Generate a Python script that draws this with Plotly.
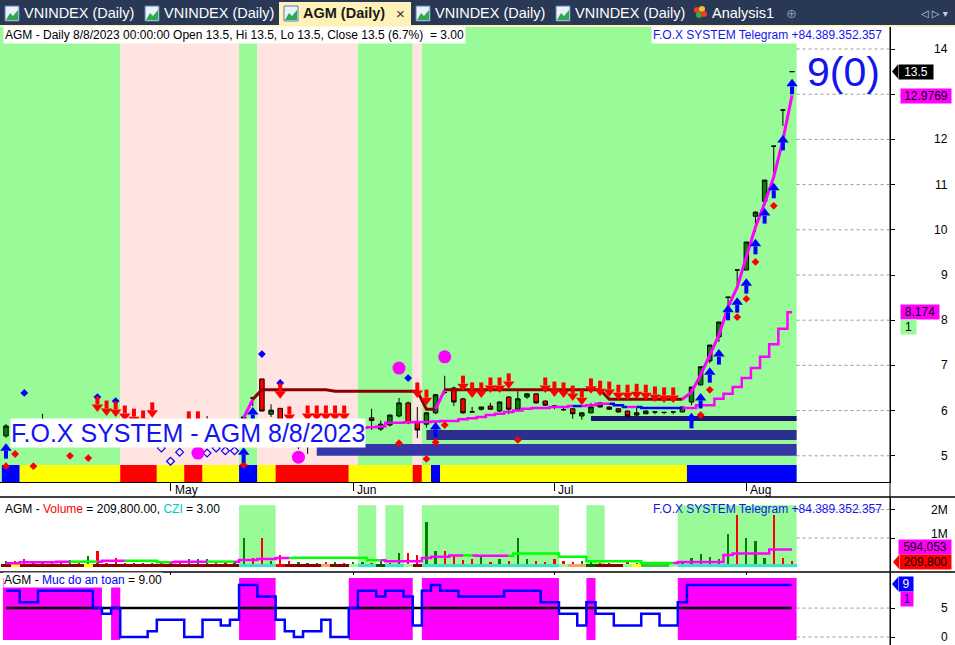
import plotly.graph_objects as go

W, H = 955, 645
FONT = "Liberation Sans"

# ------------------------------------------------------------------ data
symbol = "AGM"
last_date = "8/8/2023"
czi_value = 3.00
phone_text = "F.O.X SYSTEM Telegram +84.389.352.357"
month_names = ["May", "Jun", "Jul", "Aug"]
month_first_bar = [18, 38, 60, 81]

opens = [5.44, 5.66, 5.60, 5.50, 5.60, 5.75, 5.60, 5.55, 5.65, 5.60,
         5.72, 5.55, 5.50, 5.40, 5.35, 5.30, 5.28, 5.35, 5.30, 5.25,
         5.22, 5.40, 5.55, 5.75, 5.60, 5.50, 5.65, 6.28, 6.70, 5.92,
         6.05, 5.62, 5.20, 5.23, 5.40, 5.45, 5.35, 5.40, 5.35, 5.55,
         5.84, 5.59, 5.68, 5.88, 6.17, 5.75, 5.70, 5.95, 6.40, 6.50,
         6.26, 5.97, 6.03, 6.10, 5.99, 6.30, 6.03, 6.30, 6.37, 6.21,
         6.10, 6.02, 6.04, 5.88, 5.95, 6.17, 6.08, 6.04, 5.99, 5.90,
         5.93, 5.97, 5.96, 5.97, 5.97, 6.19, 6.57, 7.10, 7.63, 8.50,
         9.11, 9.11, 10.30, 10.63, 11.85, 12.65, 13.50]
highs = [5.70, 5.75, 5.70, 5.65, 5.93, 5.80, 5.70, 5.70, 5.72, 5.78,
         5.80, 5.65, 5.60, 5.50, 5.45, 5.40, 5.40, 5.40, 5.35, 5.30,
         5.45, 5.60, 5.88, 5.80, 5.65, 5.70, 5.86, 6.28, 6.70, 6.14,
         6.05, 5.70, 5.30, 5.45, 5.55, 5.50, 5.45, 5.50, 5.60, 5.70,
         6.04, 5.78, 5.92, 6.28, 6.20, 6.08, 5.97, 6.37, 6.77, 6.53,
         6.28, 6.08, 6.08, 6.17, 6.20, 6.32, 6.43, 6.39, 6.38, 6.23,
         6.11, 6.06, 6.05, 5.96, 6.17, 6.18, 6.09, 6.05, 6.00, 6.07,
         6.00, 5.98, 5.97, 5.98, 6.09, 6.52, 6.97, 7.45, 7.96, 8.51,
         9.11, 9.73, 10.41, 11.10, 11.85, 12.65, 13.50]
lows = [5.40, 5.50, 5.45, 5.45, 5.55, 5.55, 5.50, 5.50, 5.55, 5.55,
        5.50, 5.45, 5.35, 5.30, 5.28, 5.25, 5.25, 5.25, 5.22, 5.20,
        5.20, 5.35, 5.50, 5.55, 5.45, 5.45, 5.60, 6.10, 5.99, 5.86,
        5.60, 5.30, 5.15, 5.04, 5.35, 5.30, 5.30, 5.30, 5.30, 5.50,
        5.57, 5.55, 5.65, 5.85, 5.70, 5.39, 5.62, 5.92, 6.36, 6.10,
        5.93, 5.97, 6.00, 6.02, 5.97, 5.92, 6.00, 6.26, 6.15, 6.10,
        6.03, 6.00, 5.82, 5.80, 5.94, 6.07, 6.02, 5.96, 5.84, 5.88,
        5.92, 5.92, 5.92, 5.92, 5.96, 6.12, 6.55, 7.05, 7.52, 8.30,
        8.73, 9.11, 9.95, 10.63, 11.20, 12.30, 13.50]
closes = [5.66, 5.60, 5.50, 5.60, 5.75, 5.60, 5.55, 5.65, 5.60, 5.72,
          5.55, 5.50, 5.40, 5.35, 5.30, 5.28, 5.35, 5.30, 5.25, 5.22,
          5.40, 5.55, 5.75, 5.60, 5.50, 5.65, 5.86, 6.28, 5.99, 6.01,
          5.62, 5.35, 5.23, 5.40, 5.45, 5.35, 5.40, 5.35, 5.55, 5.65,
          5.78, 5.70, 5.90, 6.17, 5.73, 5.57, 5.95, 6.35, 6.40, 6.19,
          5.95, 5.97, 6.08, 6.03, 6.19, 6.03, 6.26, 6.37, 6.17, 6.12,
          6.10, 6.02, 5.93, 5.95, 6.08, 6.08, 6.03, 5.97, 5.88, 5.95,
          5.99, 5.97, 5.96, 5.97, 6.08, 6.52, 6.97, 7.45, 7.96, 8.51,
          9.11, 9.73, 10.39, 11.10, 11.85, 12.65, 13.50]
bars = list(range(len(closes)))

price_ticks = [5, 6, 7, 8, 9, 10, 11, 12, 13, 14]
price_tick_labels_shown = [5, 6, 7, 8, 9, 10, 11, 12, 14]
volume_ticks = [1, 2]
volume_tick_text = ["1M", "2M"]
safety_ticks = [0, 5]

# trend background (first bar, last bar, state)
trend_runs = [(0, 12, "up"), (13, 25, "down"), (26, 27, "up"), (28, 38, "down"),
              (39, 44, "up"), (45, 45, "down"), (46, 86, "up")]
# colour band under the price pane
signal_runs = [(0, 1, "B"), (2, 12, "Y"), (13, 16, "R"), (17, 19, "Y"), (20, 21, "R"),
               (22, 25, "Y"), (26, 27, "B"), (28, 29, "Y"), (30, 37, "R"), (38, 44, "Y"),
               (45, 45, "R"), (46, 46, "Y"), (47, 47, "B"), (48, 74, "Y"), (75, 86, "B")]
# support zones
support_start_bar = [64, 46, 34]
support_low = [5.77, 5.35, 5.00]
support_high = [5.88, 5.57, 5.26]

# fast trailing line (from bar 26)
trail_first_bar = 26
trail_values = [5.84, 6.25,
                6.46, 6.46, 6.46, 6.46, 6.46, 6.46, 6.46, 6.46,
                6.43, 6.43, 6.43, 6.43, 6.43, 6.43, 6.43, 6.43, 6.43, 6.43,
                6.03, 6.03,
                6.46, 6.46, 6.46, 6.46, 6.46, 6.46, 6.46, 6.46, 6.46,
                6.46, 6.46, 6.46, 6.46, 6.46, 6.46, 6.46, 6.46, 6.46,
                6.25, 6.25, 6.25, 6.25, 6.25, 6.25, 6.25, 6.25, 6.25,
                6.41, 6.79, 7.23, 7.67, 8.29, 8.73, 9.40, 10.06, 10.59, 11.17, 11.99, 12.9769]
trail_colors = ("MM" + "DDDDDDDDDDDDDDDDDDDD" + "M" +
                "DDDDDDDDDDDDDDDDDDDDDDDDDD" + "MMMMMMMMMMMM")

# slow stepped line (from bar 38)
slow_first_bar = 38
slow_values = [5.62, 5.62, 5.63, 5.65, 5.73, 5.73, 5.74, 5.75, 5.75, 5.76,
               5.77, 5.77, 5.81, 5.83, 5.86, 5.90, 5.93, 5.97, 6.00, 6.04,
               6.06, 6.06, 6.08, 6.08, 6.10, 6.10, 6.12, 6.15, 6.15, 6.12,
               6.08, 6.08, 6.06, 6.06, 6.06, 6.06, 6.06, 6.06, 6.12, 6.12,
               6.26, 6.37, 6.52, 6.72, 6.94, 7.19, 7.47, 7.81, 8.174]
slow_colors = ("MMMMMMMMMMMMMMMMMMMMMMMMM" + "B" + "MMM" + "BB" + "M" + "BBBBB" + "MMMMMMMMMMMM")
slow_extra_value = 1

# signals
sell_bars = [10, 11, 12, 13, 14, 15, 16, 20, 21, 30, 31, 33, 34, 35, 36, 37, 45, 46,
             50, 51, 52, 53, 54, 55, 59, 60, 61, 62, 63, 64, 65, 66, 67, 68, 69, 70, 71, 72, 73]
sell_tips = [5.97, 5.88, 5.86, 5.77, 5.70, 5.66, 5.84, 5.64, 5.64, 6.26, 5.75, 5.77, 5.77, 5.77, 5.77, 5.77,
             6.28, 6.12, 6.43, 6.28, 6.28, 6.39, 6.39, 6.48, 6.39, 6.30, 6.28, 6.21, 6.12, 6.37, 6.32,
             6.30, 6.23, 6.23, 6.25, 6.23, 6.19, 6.17, 6.17]
buy_bars = [0, 26, 27, 47, 75, 76, 77, 78, 79, 80, 81, 82, 83, 84, 85, 86]
buy_tips = [5.28, 5.19, 6.08, 5.75, 5.95, 6.39, 6.96, 7.36, 8.34, 8.51, 8.93, 9.80, 10.48, 11.04, 12.10, 13.34]
red_dot_bars = [0, 1, 3, 7, 9, 26, 43, 46, 47, 48, 56, 76, 77, 80, 81, 82, 84]
red_dot_y = [4.77, 5.04, 4.77, 5.00, 4.95, 4.80, 5.28, 4.93, 5.30, 5.68, 5.35, 5.90, 6.46, 8.07, 8.47, 9.29, 10.53]
blue_dot_bars = [2, 10, 12, 28, 30, 44]
blue_dot_y = [6.39, 6.30, 6.21, 7.25, 6.61, 6.72]
circle_bars = [21, 32, 43, 48]
circle_y = [5.06, 4.97, 6.94, 7.19]
hollow_bars = [17, 18, 19, 22, 23, 24, 25]
hollow_y = [5.17, 4.88, 5.08, 5.06, 5.17, 5.11, 5.11]

# volume (millions)
volume_m = [0.21, 0.21, 0.28, 0.21, 0.14, 0.17, 0.21, 0.24, 0.12, 0.38,
            0.55, 0.14, 0.31, 0.14, 0.14, 0.14, 0.14, 0.12, 0.12, 0.12,
            0.28, 0.28, 0.28, 0.21, 0.21, 0.21, 1.00, 0.31, 1.00, 0.21,
            0.41, 0.21, 0.17, 0.14, 0.14, 0.17, 0.17, 0.14, 0.17, 0.17,
            0.14, 0.21, 0.14, 0.48, 0.48, 0.41, 1.55, 0.55, 0.55, 0.41,
            0.24, 0.28, 0.34, 0.15, 0.28, 0.20, 1.00, 0.25, 0.20, 0.15,
            0.25, 0.18, 0.15, 0.20, 0.15, 0.12, 0.12, 0.10, 0.15, 0.12,
            0.10, 0.10, 0.12, 0.10, 0.15, 0.30, 0.45, 0.35, 0.25, 1.15,
            1.80, 1.00, 0.90, 0.30, 1.80, 0.30, 0.2098]
volume_avg_m = [0.11, 0.11, 0.15, 0.15, 0.15, 0.15, 0.17, 0.17, 0.17, 0.17,
                0.17, 0.20, 0.20, 0.20, 0.20, 0.20, 0.20, 0.15, 0.15, 0.17,
                0.17, 0.17, 0.17, 0.17, 0.17, 0.17, 0.23, 0.23, 0.26, 0.26,
                0.30, 0.30, 0.31, 0.31, 0.31, 0.31, 0.31, 0.31, 0.31, 0.31,
                0.22, 0.22, 0.18, 0.18, 0.18, 0.18, 0.30, 0.34, 0.34, 0.39,
                0.39, 0.39, 0.38, 0.38, 0.38, 0.38, 0.46, 0.46, 0.46, 0.46,
                0.46, 0.34, 0.34, 0.34, 0.18, 0.18, 0.18, 0.18, 0.18, 0.18,
                0.12, 0.12, 0.12, 0.12, 0.16, 0.16, 0.16, 0.16, 0.16, 0.40,
                0.46, 0.46, 0.46, 0.46, 0.594053, 0.594053, 0.594053]
volume_avg_colors = ("MMMMMMMM" + "GGG" + "MMM" + "GGGGG" + "MMMM" + "GGG" + "MMMMMM" +
                     "GGGGGGGGGG" + "MMMMMMMMM" + "G" + "MMMM" + "GGGGGGGGGGGGGGGGGG" + "MMMMMMMMMMMMM")
volume_zone_runs = [(26, 29), (39, 40), (42, 43), (46, 60), (64, 65), (74, 86)]
flow_strip = ("d" + "y" + "ddddddd" + "y" + "dddddddddddddddd" + "cccc" + "r" + "dddd" + "o" + "dd" +
              "l" + "cc" + "g" + "cc" + "l" + "d" + "ccccccccccccccc" + "l" + "oo" + "g" + "ddd" + "l" +
              "y" + "iii" + "l" + "ccccccccccccc")

# safety level ("Muc do an toan")
safety_level = [8, 8, 6, 6, 8, 8, 8, 8, 8, 8, 5, 4, 5, 0, 0, 0, 1, 3, 3, 3,
                0, 0, 3, 3, 2, 3, 9, 9, 7, 7, 3, 1, 0, 1, 1, 3, 0, 0, 5, 8,
                8, 7, 8, 8, 7, 2, 8, 9, 8, 8, 7, 7, 7, 7, 7, 8, 8, 8, 8, 6,
                6, 4, 4, 2, 6, 4, 4, 2, 2, 2, 4, 4, 2, 2, 6, 9, 9, 9, 9, 9,
                9, 9, 9, 9, 9, 9, 9]
safety_threshold = 5
safety_extra_value = 1
signal_count = 0

n = len(closes)
for arr in (opens, highs, lows, volume_m, volume_avg_m, safety_level):
    assert len(arr) == n
assert len(volume_avg_colors) == n and len(flow_strip) == n
assert len(trail_values) == n - trail_first_bar == len(trail_colors)
assert len(slow_values) == n - slow_first_bar == len(slow_colors)
assert len(sell_bars) == len(sell_tips) and len(buy_bars) == len(buy_tips)

# ------------------------------------------------------------------ geometry (pixels)
PLOT_R = 890
BAR_PX = 9.14
FIRST_BAR_PX = 6
PRICE_PX = (27, 482)
VOL_PX = (498, 571)
IND_PX = (573, 645)
PRICE_RANGE = (4.42, 14.487)
VOL_RANGE = (-0.158, 2.404)
IND_RANGE = (-1.384, 11.07)
X0 = -FIRST_BAR_PX / BAR_PX
X1 = X0 + PLOT_R / BAR_PX
XEND = n - 0.5


def fx(px):
    return px / W


def fy(py):
    return 1 - py / H


def dom(p):
    return [fy(p[1]), fy(p[0])]


PPU = (PRICE_RANGE[1] - PRICE_RANGE[0]) / (PRICE_PX[1] - PRICE_PX[0])
VPU = (VOL_RANGE[1] - VOL_RANGE[0]) / (VOL_PX[1] - VOL_PX[0])
IPU = (IND_RANGE[1] - IND_RANGE[0]) / (IND_PX[1] - IND_PX[0])

GREEN_BG = "#98FB98"
PINK_BG = "#FFE4E1"
MAGENTA = "#FF00FF"
DARKRED = "#8B0000"
BLUE = "#0000FF"
TEXT_BLUE = "#1414F0"
GRID = "#9A9A9A"

fig = go.Figure()
shapes = []
anns = []


def hgrid(xa, ya, vals):
    for v in vals:
        shapes.append(dict(type="line", xref=xa, yref=ya, x0=XEND, x1=X1, y0=v, y1=v,
                           line=dict(color=GRID, width=1, dash="dot"), layer="below"))


hgrid("x", "y", price_ticks)
hgrid("x2", "y2", volume_ticks)
hgrid("x3", "y3", safety_ticks)

# ---------------- price pane backgrounds
trend_color = {"up": GREEN_BG, "down": PINK_BG}
for a, b, s in trend_runs:
    shapes.append(dict(type="rect", xref="x", yref="y domain", x0=(a - 0.5) if a > 0 else X0,
                       x1=b + 0.5, y0=0, y1=1, fillcolor=trend_color[s], line_width=0, layer="below"))
band_color = {"B": "#0000FF", "Y": "#FFFF00", "R": "#FF0000"}
BAND_TOP = 4.796
for a, b, s in signal_runs:
    shapes.append(dict(type="rect", xref="x", yref="y", x0=a - 0.5 if a > 0 else -0.45, x1=b + 0.5,
                       y0=PRICE_RANGE[0], y1=BAND_TOP, fillcolor=band_color[s], line_width=0, layer="below"))
zone_colors = ["#17176C", "#2C2E90", "#3535A8"]
for s, lo, hi, c in zip(support_start_bar, support_low, support_high, zone_colors):
    shapes.append(dict(type="rect", xref="x", yref="y", x0=s, x1=XEND, y0=lo, y1=hi,
                       fillcolor=c, line_width=0, layer="below"))

# candles
fig.add_trace(go.Candlestick(
    x=bars, open=opens, high=highs, low=lows, close=closes,
    increasing=dict(fillcolor="#008000", line=dict(color="black", width=1)),
    decreasing=dict(fillcolor="#FF0000", line=dict(color="black", width=1)),
    whiskerwidth=0, xaxis="x", yaxis="y", hoverinfo="skip"))


def colored_line(xs, ys, codes, cmap, shape, width, xa, ya):
    runs = []
    for i in range(1, len(xs)):
        c = codes[i]
        if runs and runs[-1][0] == c:
            runs[-1][1].append(i)
        else:
            runs.append([c, [i - 1, i]])
    for c, idx in runs:
        fig.add_trace(go.Scatter(x=[xs[k] for k in idx], y=[ys[k] for k in idx], mode="lines",
                                 line=dict(color=cmap[c], width=width, shape=shape),
                                 xaxis=xa, yaxis=ya, hoverinfo="skip"))


slow_x = bars[slow_first_bar:]
colored_line(slow_x, slow_values, slow_colors, {"M": MAGENTA, "B": BLUE}, "hvh", 2.5, "x", "y")
trail_x = bars[trail_first_bar:]
colored_line(trail_x, trail_values, trail_colors, {"M": MAGENTA, "D": DARKRED}, "linear", 3, "x", "y")


def markers(xs, ys, symbol, size, color, line_color=None, line_width=0):
    fig.add_trace(go.Scatter(x=xs, y=ys, mode="markers", xaxis="x", yaxis="y", hoverinfo="skip",
                             marker=dict(symbol=symbol, size=size, color=color,
                                         line=dict(color=line_color or color, width=line_width))))


markers(red_dot_bars, red_dot_y, "diamond", 6, "#FF0000")
markers(blue_dot_bars, blue_dot_y, "diamond", 6, BLUE)
markers(hollow_bars, hollow_y, "diamond-open", 6, BLUE, BLUE, 1.2)
markers(circle_bars, circle_y, "circle", 13, MAGENTA)
# arrows: stem + head, tips given in price
markers(sell_bars, [t + 11.5 * PPU for t in sell_tips], "line-ns", 5.7, "#FF0000", "#FF0000", 4)
markers(sell_bars, [t + 5 * PPU for t in sell_tips], "triangle-down", 10, "#FF0000")
markers(buy_bars, [t - 11.5 * PPU for t in buy_tips], "line-ns", 5.7, BLUE, BLUE, 4)
markers(buy_bars, [t - 5 * PPU for t in buy_tips], "triangle-up", 10, BLUE)

# ---------------- volume pane
for a, b in volume_zone_runs:
    shapes.append(dict(type="rect", xref="x2", yref="y2 domain", x0=a - 0.5, x1=b + 0.5, y0=0.05, y1=0.9,
                       fillcolor=GREEN_BG, line_width=0, layer="below"))
vol_colors = ["#008000" if c > o else "#FF0000" for o, c in zip(opens, closes)]
fig.add_trace(go.Bar(x=bars, y=volume_m, width=0.25, marker=dict(color=vol_colors, line_width=0),
                     xaxis="x2", yaxis="y2", hoverinfo="skip"))
strip_map = {"d": "#8B0000", "y": "#FFFF00", "c": "#40E0D0", "r": "#FF0000", "o": "#F4A460",
             "l": "#98FB98", "g": "#006400", "i": "#32CD32"}
STRIP_LO, STRIP_HI = -0.02, 0.10
fig.add_trace(go.Bar(x=bars, y=[STRIP_HI - STRIP_LO] * n, base=STRIP_LO, width=1,
                     marker=dict(color=[strip_map[c] for c in flow_strip], line_width=0),
                     xaxis="x2", yaxis="y2", hoverinfo="skip"))
colored_line(bars, volume_avg_m, volume_avg_colors, {"M": MAGENTA, "G": "#00FF00"}, "hvh", 2.5, "x2", "y2")

# ---------------- safety pane
runs = []
for i, v in enumerate(safety_level):
    if v >= safety_threshold:
        if runs and runs[-1][1] == i - 1:
            runs[-1][1] = i
        else:
            runs.append([i, i])
for a, b in runs:
    shapes.append(dict(type="rect", xref="x3", yref="y3 domain", x0=max(a - 0.5, -0.33), x1=b + 0.5,
                       y0=0.07, y1=0.93, fillcolor=MAGENTA, line_width=0, layer="below"))
fig.add_trace(go.Scatter(x=[bars[0], bars[-1]], y=[safety_threshold, safety_threshold], mode="lines",
                         line=dict(color="black", width=2.5), xaxis="x3", yaxis="y3", hoverinfo="skip"))
fig.add_trace(go.Scatter(x=bars, y=safety_level, mode="lines", line=dict(color=BLUE, width=2.5, shape="hvh"),
                         xaxis="x3", yaxis="y3", hoverinfo="skip"))

# ---------------- texts
pct = (closes[-1] / closes[-2] - 1) * 100
header = (f"{symbol} - Daily {last_date} 00:00:00 Open {opens[-1]:g}, Hi {highs[-1]:g}, "
          f"Lo {lows[-1]:g}, Close {closes[-1]:g} ({pct:.1f}%)\u00a0 = {czi_value:.2f}")
anns.append(dict(xref="paper", yref="paper", x=fx(3), y=fy(35), xanchor="left", yanchor="middle",
                 text=header, showarrow=False, bgcolor="white", borderpad=1,
                 font=dict(family=FONT, size=12, color="black")))
anns.append(dict(xref="paper", yref="paper", x=fx(884), y=fy(35), xanchor="right", yanchor="middle",
                 text=phone_text, showarrow=False, bgcolor="white", borderpad=1,
                 font=dict(family=FONT, size=12, color=TEXT_BLUE)))
vol_header = (f"{symbol} - <span style='color:#FF0000'>Volume</span> = {volume_m[-1] * 1e6:,.2f}, "
              f"<span style='color:#00C8C8'>CZI</span> = {czi_value:.2f}")
anns.append(dict(xref="paper", yref="paper", x=fx(3), y=fy(509), xanchor="left", yanchor="middle",
                 text=vol_header, showarrow=False, font=dict(family=FONT, size=12, color="black")))
anns.append(dict(xref="paper", yref="paper", x=fx(884), y=fy(509), xanchor="right", yanchor="middle",
                 text=phone_text, showarrow=False, font=dict(family=FONT, size=12, color=TEXT_BLUE)))
ind_header = (f"{symbol} - <span style='color:#0000FF'>Muc do an toan</span> = {safety_level[-1]:.2f}")
anns.append(dict(xref="paper", yref="paper", x=fx(3), y=fy(580), xanchor="left", yanchor="middle",
                 text=ind_header, showarrow=False, bgcolor="white", borderpad=0,
                 font=dict(family=FONT, size=12, color="black")))
anns.append(dict(xref="paper", yref="paper", x=fx(10), y=fy(432.5), xanchor="left", yanchor="middle",
                 text=f"F.O.X SYSTEM - {symbol} {last_date}", showarrow=False, bgcolor="white",
                 borderpad=0, font=dict(family=FONT, size=25, color=TEXT_BLUE)))
anns.append(dict(xref="paper", yref="paper", x=fx(843), y=fy(72), xanchor="center", yanchor="middle",
                 text=f"{safety_level[-1]}({signal_count})", showarrow=False,
                 font=dict(family=FONT, size=41, color=TEXT_BLUE)))

# month labels
for name, b in zip(month_names, month_first_bar):
    anns.append(dict(xref="x", yref="paper", x=b, y=fy(490), xanchor="left", yanchor="middle", xshift=2,
                     text=name, showarrow=False, font=dict(family=FONT, size=12, color="black")))

# right axis tick labels
for v in price_tick_labels_shown:
    anns.append(dict(xref="paper", yref="y", x=fx(950), y=v, xanchor="right", yanchor="middle",
                     text=str(v), showarrow=False, font=dict(family=FONT, size=12, color="black")))
for v, t in zip(volume_ticks, volume_tick_text):
    anns.append(dict(xref="paper", yref="y2", x=fx(950), y=v, xanchor="right", yanchor="middle",
                     yshift=4 if v == 1 else 0,
                     text=t, showarrow=False, font=dict(family=FONT, size=12, color="black")))
for v in safety_ticks:
    anns.append(dict(xref="paper", yref="y3", x=fx(950), y=v, xanchor="right", yanchor="middle",
                     text=str(v), showarrow=False, font=dict(family=FONT, size=12, color="black")))


def value_box(text, yaxis, yval, ppu, x_px, w_px, bg, fg, pointer=False, shift_px=0):
    y = yval - shift_px * ppu
    anns.append(dict(xref="paper", yref=yaxis, x=fx(x_px), y=y, xanchor="left", yanchor="middle",
                     text=text, showarrow=False, bgcolor=bg, width=w_px, height=14, borderpad=0,
                     align="center", font=dict(family=FONT, size=12, color=fg)))
    if pointer:
        h = 7 * ppu
        shapes.append(dict(type="path", xref="paper", yref=yaxis,
                           path=f"M {fx(x_px - 6)},{y} L {fx(x_px)},{y + h} L {fx(x_px)},{y - h} Z",
                           fillcolor=bg, line_width=0, layer="above"))


value_box(f"{closes[-1]:g}", "y", closes[-1], PPU, 898, 34, "black", "white", pointer=True)
value_box(f"{trail_values[-1]:g}", "y", trail_values[-1], PPU, 900, 50, MAGENTA, "black", shift_px=1)
value_box(f"{slow_values[-1]:g}", "y", slow_values[-1], PPU, 900, 38, MAGENTA, "black")
value_box(str(slow_extra_value), "y", slow_values[-1], PPU, 900, 15, GREEN_BG, "black", shift_px=15)
value_box(f"{volume_avg_m[-1] * 1e6:,.0f}", "y2", volume_avg_m[-1], VPU, 898, 52, MAGENTA, "black",
          shift_px=-2.5)
value_box(f"{volume_m[-1] * 1e6:,.0f}", "y2", volume_m[-1], VPU, 899, 51, "#FF0000", "black", pointer=True,
          shift_px=1.5)
value_box(str(safety_level[-1]), "y3", safety_level[-1], IPU, 898, 14, BLUE, "white", pointer=True, shift_px=-1)
value_box(str(safety_extra_value), "y3", safety_level[-1], IPU, 900, 12, MAGENTA, "#0000AA", shift_px=14)

# ---------------- window chrome: tabs
TAB_BG = "#293955"
ACTIVE = "#FFF2B8"
shapes.append(dict(type="rect", xref="paper", yref="paper", x0=0, x1=1, y0=fy(26), y1=1,
                   fillcolor=TAB_BG, line_width=0, layer="above"))
shapes.append(dict(type="rect", xref="paper", yref="paper", x0=fx(279), x1=fx(411), y0=fy(26), y1=fy(2),
                   fillcolor=ACTIVE, line_width=0, layer="above"))
shapes.append(dict(type="rect", xref="paper", yref="paper", x0=0, x1=1, y0=fy(27), y1=fy(25),
                   fillcolor=ACTIVE, line_width=0, layer="above"))
tabs = [("VNINDEX (Daily)", 5, False), ("VNINDEX (Daily)", 145, False), (f"{symbol} (Daily)", 284, True),
        ("VNINDEX (Daily)", 416, False), ("VNINDEX (Daily)", 556, False)]
for label, ix, active in tabs:
    shapes.append(dict(type="rect", xref="paper", yref="paper", x0=fx(ix), x1=fx(ix + 14), y0=fy(21), y1=fy(6),
                       fillcolor="#EAF1FB", line=dict(color="#5A7DB5", width=1), layer="above"))
    shapes.append(dict(type="path", xref="paper", yref="paper",
                       path=(f"M {fx(ix + 1)},{fy(20)} L {fx(ix + 5)},{fy(13)} L {fx(ix + 8)},{fy(16)} "
                             f"L {fx(ix + 13)},{fy(10)} L {fx(ix + 13)},{fy(20)} Z"),
                       fillcolor="#2FA84F", line_width=0, layer="above"))
    anns.append(dict(xref="paper", yref="paper", x=fx(ix + 17), y=fy(13.5), xanchor="left", yanchor="middle",
                     text=f"<b>{label}</b>" if active else label, showarrow=False,
                     font=dict(family=FONT, size=14.5, color="#1A1A1A" if active else "white")))
anns.append(dict(xref="paper", yref="paper", x=fx(400), y=fy(13), xanchor="center", yanchor="middle",
                 text="×", showarrow=False, font=dict(family=FONT, size=15, color="#333333")))
for cx, cy, col in [(697, 10, "#E8402A"), (702, 9, "#F2C12E"), (699, 15, "#3BAA35"), (704, 14, "#E8402A")]:
    shapes.append(dict(type="circle", xref="paper", yref="paper", x0=fx(cx - 3), x1=fx(cx + 3),
                       y0=fy(cy + 3), y1=fy(cy - 3), fillcolor=col, line_width=0, layer="above"))
anns.append(dict(xref="paper", yref="paper", x=fx(710), y=fy(13.5), xanchor="left", yanchor="middle",
                 text="Analysis1", showarrow=False, font=dict(family=FONT, size=14.5, color="white")))
anns.append(dict(xref="paper", yref="paper", x=fx(791), y=fy(13), xanchor="center", yanchor="middle",
                 text="⊕", showarrow=False, font=dict(family="DejaVu Sans", size=13, color="#8A93A6")))
anns.append(dict(xref="paper", yref="paper", x=fx(950), y=fy(13), xanchor="right", yanchor="middle",
                 text="◁ ▷ ▾", showarrow=False, font=dict(family="DejaVu Sans", size=10, color="#C8D0DE")))

# pane separators and right axis line
for py in (497, 572):
    shapes.append(dict(type="line", xref="paper", yref="paper", x0=0, x1=1, y0=fy(py), y1=fy(py),
                       line=dict(color="black", width=1.5), layer="above"))
shapes.append(dict(type="line", xref="paper", yref="paper", x0=fx(PLOT_R), x1=fx(PLOT_R), y0=0,
                   y1=fy(27), line=dict(color="black", width=1), layer="above"))

# ---------------- axes
common_x = dict(range=[X0, X1], domain=[0, fx(PLOT_R)], tickvals=month_first_bar, showticklabels=False,
                showgrid=False, zeroline=False, fixedrange=True)
common_y = dict(side="right", showticklabels=False, ticks="outside", ticklen=4, tickcolor="black",
                showgrid=False, zeroline=False, showline=True, linecolor="black", fixedrange=True)

fig.update_layout(
    width=W, height=H, margin=dict(l=0, r=0, t=0, b=0),
    paper_bgcolor="white", plot_bgcolor="white", showlegend=False,
    barmode="overlay", bargap=0, boxgap=0.3,
    font=dict(family=FONT, size=12, color="black"),
    xaxis=dict(**common_x, anchor="y", ticks="outside", ticklen=8, tickcolor="black",
               showline=True, linecolor="black", rangeslider=dict(visible=False)),
    xaxis2=dict(**common_x, anchor="y2", matches="x", ticks="outside", ticklen=3, tickcolor="black"),
    xaxis3=dict(**common_x, anchor="y3", matches="x", ticks=""),
    yaxis=dict(**common_y, domain=dom(PRICE_PX), range=list(PRICE_RANGE), tickvals=price_ticks, anchor="x"),
    yaxis2=dict(**common_y, domain=dom(VOL_PX), range=list(VOL_RANGE), tickvals=volume_ticks, anchor="x2"),
    yaxis3=dict(**common_y, domain=dom(IND_PX), range=list(IND_RANGE), tickvals=safety_ticks, anchor="x3"),
    shapes=shapes, annotations=anns,
)

fig.write_html("out.html", config={"displayModeBar": False},
               post_script="document.body.style.margin='0px';document.body.style.overflow='hidden';")
